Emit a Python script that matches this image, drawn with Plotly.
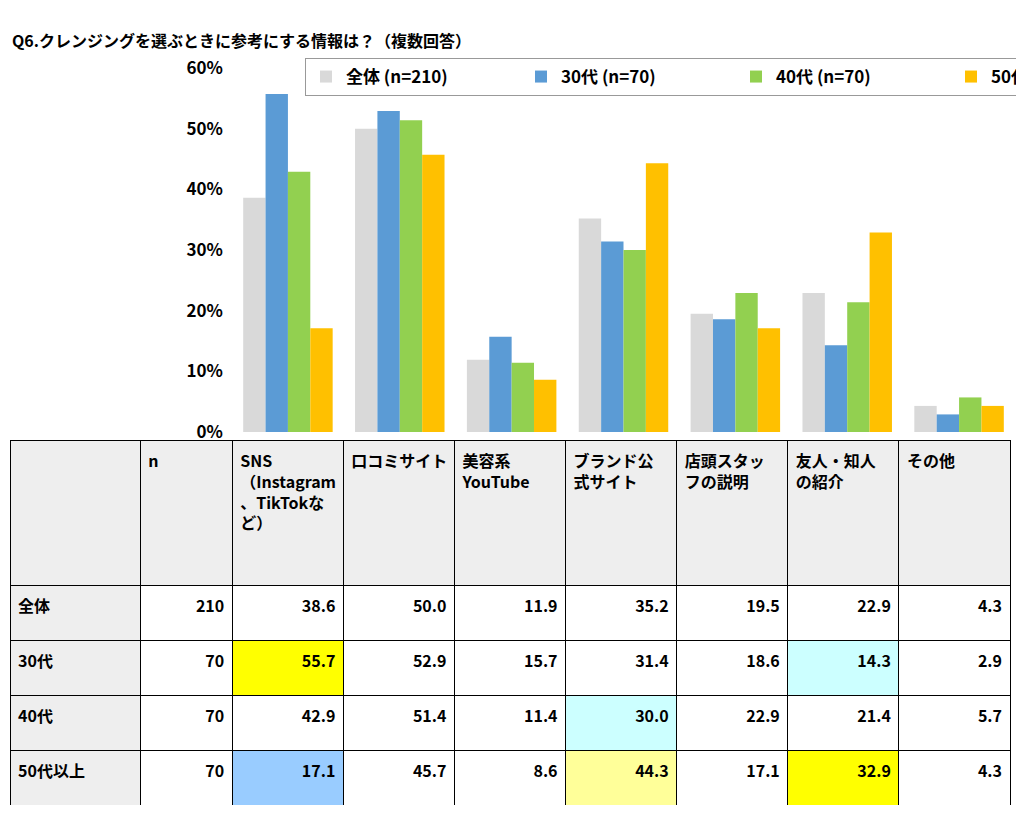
import plotly.graph_objects as go

categories = ["SNS（Instagram、TikTokなど）", "口コミサイト", "美容系YouTube", "ブランド公式サイト", "店頭スタッフの説明", "友人・知人の紹介", "その他"]
header_labels = ["SNS<br>（Instagram<br>、TikTokな<br>ど）", "口コミサイト", "美容系<br>YouTube", "ブランド公<br>式サイト", "店頭スタッ<br>フの説明", "友人・知人<br>の紹介", "その他"]
groups = ["全体", "30代", "40代", "50代以上"]
n_values = [210, 70, 70, 70]
values = {
    "全体": [38.6, 50.0, 11.9, 35.2, 19.5, 22.9, 4.3],
    "30代": [55.7, 52.9, 15.7, 31.4, 18.6, 14.3, 2.9],
    "40代": [42.9, 51.4, 11.4, 30.0, 22.9, 21.4, 5.7],
    "50代以上": [17.1, 45.7, 8.6, 44.3, 17.1, 32.9, 4.3],
}
colors = ["#d9d9d9", "#5b9bd5", "#92d050", "#ffc000"]
highlights = {  # (group index, category index): fill
    (1, 0): "#ffff00", (3, 0): "#99ccff", (2, 3): "#ccffff",
    (3, 3): "#ffff99", (1, 5): "#ccffff", (3, 5): "#ffff00",
}

W, H = 1024, 816
OFF = 8
def px(x): return (x - OFF) / W
def py(y): return 1 - (y - OFF) / H

FONT = "Noto Sans CJK JP"
fig = go.Figure()
for i, (g, c) in enumerate(zip(groups, colors)):
    fig.add_trace(go.Bar(x=categories, y=[v / 100 for v in values[g]],
                         name=f"<b>{g} (n={n_values[i]})</b>",
                         marker=dict(color=c, line=dict(width=0))))

cols = [["<b>" + g + "</b>" for g in groups], [f"<b>{n}</b>" for n in n_values]]
fills = [["#eeeeee"] * 4, ["white"] * 4]
for ci in range(len(categories)):
    cols.append([f"<b>{values[g][ci]:.1f}</b>" for g in groups])
    fills.append([highlights.get((gi, ci), "white") for gi in range(4)])

fig.add_trace(go.Table(
    domain=dict(x=[px(10), px(1010)], y=[py(805), py(440)]),
    columnwidth=[130, 92] + [111] * 7,
    header=dict(values=["", "<b>n</b>"] + ["<b>" + h + "</b>" for h in header_labels],
                fill_color="#eeeeee", line=dict(color="black", width=1),
                align="left", height=145, font=dict(size=16, color="black", family=FONT)),
    cells=dict(values=cols, fill_color=fills, line=dict(color="black", width=1),
               align=["left"] + ["right"] * 8, height=55,
               font=dict(size=16, color="black", family=FONT)),
))

fig.update_layout(
    width=W, height=H, margin=dict(l=0, r=0, t=0, b=0, autoexpand=False),
    paper_bgcolor="white", plot_bgcolor="white",
    font=dict(family=FONT, color="black"),
    barmode="group", bargap=0.2, bargroupgap=0,
    showlegend=True,
    legend=dict(orientation="h", x=px(305), y=py(58), xanchor="left", yanchor="top",
                bordercolor="#999999", borderwidth=1, font=dict(size=17, family=FONT),
                itemwidth=30, entrywidth=170, entrywidthmode="pixels"),
    xaxis=dict(domain=[px(232), px(1015)], showticklabels=False, showline=False),
    yaxis=dict(domain=[py(432), py(68)], range=[0, 0.6], dtick=0.1, tickformat=".0%",
               showgrid=False, zeroline=False, tickfont=dict(size=17, family=FONT),
               ticklabelstandoff=8, tickprefix="<b>", ticksuffix="</b>"),
    annotations=[dict(text="<b>Q6.クレンジングを選ぶときに参考にする情報は？（複数回答）</b>",
                      xref="paper", yref="paper", x=px(10), y=py(40), xanchor="left",
                      yanchor="middle", showarrow=False, font=dict(size=16, family=FONT))],
)
fig.write_html("out.html")
